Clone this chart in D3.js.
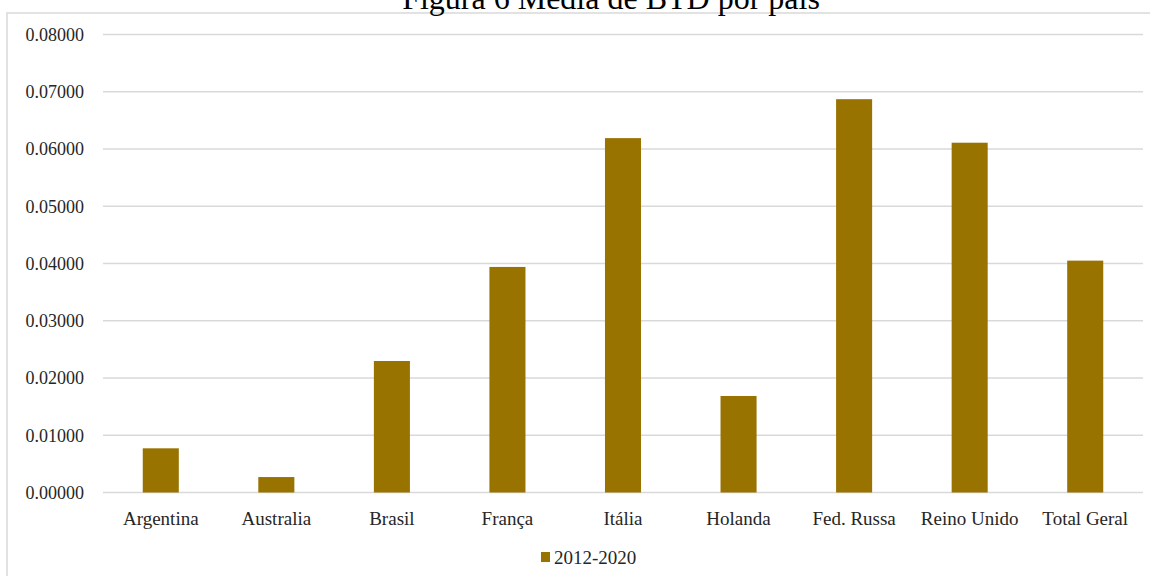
<!DOCTYPE html>
<html>
<head>
<meta charset="utf-8">
<script src="https://cdn.jsdelivr.net/npm/d3@7"></script>
<style>
  html, body { margin: 0; padding: 0; background: #fff; }
  svg { display: block; }
  text { font-family: "Liberation Serif", "Times New Roman", serif; fill: #262626; }
</style>
</head>
<body>
<svg id="chart" width="1150" height="576"></svg>
<script>
// Average BTD per country, 2012-2020
const categories = ["Argentina", "Australia", "Brasil", "França", "Itália", "Holanda", "Fed. Russa", "Reino Unido", "Total Geral"];
const values = [0.00772, 0.00270, 0.02297, 0.03940, 0.06190, 0.01686, 0.06870, 0.06110, 0.04050];
const yTicks = [0, 0.01, 0.02, 0.03, 0.04, 0.05, 0.06, 0.07, 0.08];
const seriesName = "2012-2020";
const title = "Figura 6 Média de BTD por país";

const svg = d3.select("#chart");
const barColor = "#997300";
const gridColor = "#d9d9d9";
const serif = '"Liberation Serif", "Times New Roman", serif';

// chart frame
svg.append("rect")
  .attr("x", 7).attr("y", 13)
  .attr("width", 1160).attr("height", 580)
  .attr("fill", "none")
  .attr("stroke", gridColor)
  .attr("stroke-width", 1.5);

// title (sits above the frame, partly outside the page top)
svg.append("text")
  .attr("x", 611).attr("y", 9)
  .attr("text-anchor", "middle")
  .style("font-family", serif)
  .style("font-size", "32px")
  .style("fill", "#000")
  .text(title);

const x = d3.scaleBand()
  .domain(categories)
  .range([103, 1143])
  .paddingInner(0.688)
  .paddingOuter(0.344);

const y = d3.scaleLinear()
  .domain([0, 0.08])
  .range([492.5, 34.5]);

// gridlines
svg.append("g")
  .selectAll("line")
  .data(yTicks)
  .join("line")
  .attr("x1", 103).attr("x2", 1143)
  .attr("y1", d => y(d)).attr("y2", d => y(d))
  .attr("stroke", gridColor)
  .attr("stroke-width", 1.5);

// y axis labels
const yAxis = d3.axisLeft(y)
  .tickValues(yTicks)
  .tickFormat(d3.format(".5f"))
  .tickSize(0)
  .tickPadding(0);
const yg = svg.append("g")
  .attr("transform", "translate(84,0)")
  .call(yAxis);
yg.select(".domain").remove();
yg.attr("font-family", null).attr("font-size", null);
yg.selectAll("text")
  .style("font-family", serif)
  .style("font-size", "18px")
  .style("fill", "#262626");

// bars
svg.append("g")
  .selectAll("rect")
  .data(categories.map((c, i) => ({ c, v: values[i] })))
  .join("rect")
  .attr("x", d => x(d.c))
  .attr("width", x.bandwidth())
  .attr("y", d => y(d.v))
  .attr("height", d => y(0) - y(d.v))
  .attr("fill", barColor);

// x axis labels
const xAxis = d3.axisBottom(x).tickSize(0).tickPadding(0);
const xg = svg.append("g")
  .attr("transform", "translate(0,511)")
  .call(xAxis);
xg.select(".domain").remove();
xg.attr("font-family", null).attr("font-size", null);
xg.selectAll("text")
  .style("font-family", serif)
  .style("font-size", "19px")
  .style("fill", "#262626")
  .attr("dy", "0.72em");

// legend
const legend = svg.append("g").attr("transform", "translate(541,552)");
legend.append("rect")
  .attr("width", 9).attr("height", 10)
  .attr("fill", barColor);
legend.append("text")
  .attr("x", 13).attr("y", 5)
  .attr("dy", "0.35em")
  .style("font-family", serif)
  .style("font-size", "19px")
  .text(seriesName);
</script>
</body>
</html>
